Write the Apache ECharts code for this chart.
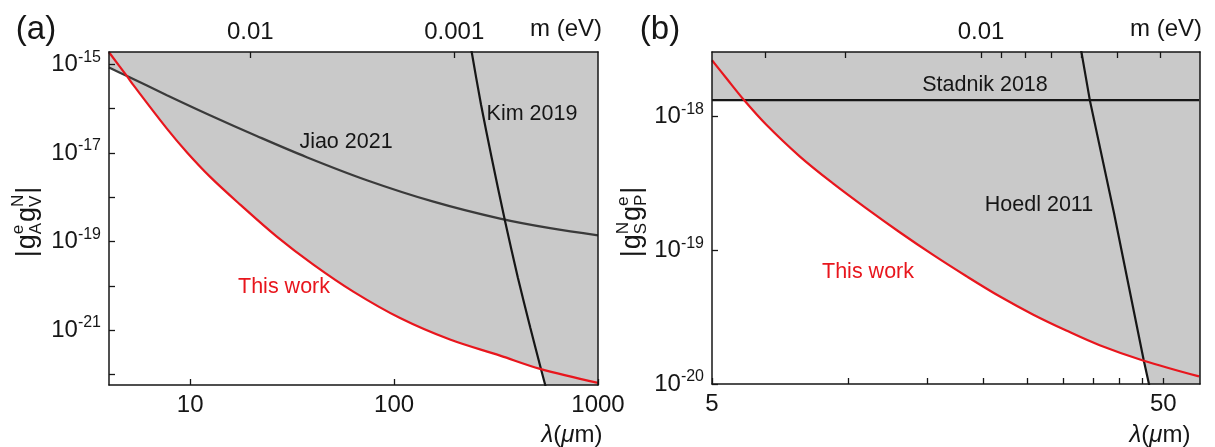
<!DOCTYPE html>
<html><head><meta charset="utf-8">
<script src="https://cdn.jsdelivr.net/npm/echarts@6/dist/echarts.min.js"></script>
<style>html,body{margin:0;padding:0;background:#fff}#c{width:1215px;height:447px}</style>
</head><body><div id="c"></div>
<script>
const HBARC = 0.1973; // eV·µm, converts mass (eV) to range λ (µm)

// ---------- Panel (a) ----------
const aThisWorkLambda = [4.0, 4.9, 5.27, 7.69, 9.63, 12.5, 17.6, 26.6, 40.2, 63.1, 107, 188, 331, 520, 1000];
const aThisWorkG      = [1.88e-15, 5.42e-16, 3.39e-16, 3.54e-17, 1.04e-17, 2.92e-18, 6.81e-19, 1.29e-19, 3.01e-20, 7.40e-21, 1.87e-21, 6.11e-22, 2.65e-22, 1.33e-22, 6.43e-23];
const aJiaoLambda = [4.0, 4.9, 7.69, 12.5, 21.2, 37.3, 73.5, 156, 331, 582, 1000];
const aJiaoG      = [8.55e-16, 5.47e-16, 2.02e-16, 7.13e-17, 2.42e-17, 8.04e-18, 2.43e-18, 7.96e-19, 3.29e-19, 2.00e-19, 1.38e-19];
const aKimLambda = [231, 240, 267, 301, 350, 405, 466, 526, 551, 632, 1260];
const aKimG      = [6.0e-15, 1.95e-15, 1.23e-16, 7.8e-18, 2.9e-19, 1.5e-20, 1.12e-21, 1.29e-22, 5.75e-23, 5.5e-24, 1e-30];
const aXTicks  = [10, 100, 1000];
const aYTicks  = [1e-22, 1e-21, 1e-20, 1e-19, 1e-18, 1e-17, 1e-16, 1e-15];
const aYLabels = [1e-21, 1e-19, 1e-17, 1e-15];
const aMassTicks  = ['0.01', '0.001'];
const aMassLabels = ['0.01', '0.001'];

// ---------- Panel (b) ----------
const bThisWorkLambda = [5.0, 5.37, 5.90, 6.59, 7.82, 9.27, 10.99, 13.03, 15.42, 18.32, 21.68, 25.70, 30.48, 36.14, 45.08, 60.0];
const bThisWorkG      = [2.62e-18, 1.94e-18, 1.31e-18, 8.67e-19, 5.02e-19, 3.15e-19, 2.05e-19, 1.36e-19, 9.25e-20, 6.38e-20, 4.52e-20, 3.31e-20, 2.51e-20, 1.95e-20, 1.50e-20, 1.14e-20];
const bStadnikLambda = [5.0, 60.0];
const bStadnikG      = [1.32e-18, 1.32e-18];
const bHoedlLambda = [31.88, 32.94, 34.37, 38.87, 45.24, 46.54, 48.74, 100];
const bHoedlG      = [5.2e-18, 3.0e-18, 1.32e-18, 1.9e-19, 1.51e-20, 9.8e-21, 4.5e-21, 1e-30];
const bXTicks  = [5, 10, 15, 20, 25, 30, 35, 40, 45, 50];
const bXLabels = [5, 50];
const bYTicks  = [1e-20, 1e-19, 1e-18];
const bYLabels = [1e-20, 1e-19, 1e-18];
const bMassTicks  = ['0.04', '0.03', '0.02', '0.01', '0.009', '0.008', '0.007', '0.006', '0.005', '0.004'];
const bMassLabels = ['0.01'];

const GRAY = '#c9c9c9', RED = '#e8161d', INK = '#161616', DARK = '#3a3a3a';
const FF = 'Liberation Sans';
const FONT = (s) => s + 'px "Liberation Sans", Arial, sans-serif';

const zip = (xs, ys) => xs.map((x, i) => [x, ys[i]]);
const massToLambda = (arr) => arr.map(m => HBARC / parseFloat(m));
const massFormatter = (labels) => (v) => {
  for (const m of labels) { const l = HBARC / parseFloat(m); if (Math.abs(l - v) / v < 1e-6) return m; }
  return '';
};

const axisLineStyle = { color: INK, width: 1.5 };
const tickStyle = { color: INK, width: 1.3 };

function xBottom(grid, min, max, ticks, labels) {
  return { type: 'log', logBase: 10, gridIndex: grid, position: 'bottom', min, max, z: 10,
    axisLine: { show: true, onZero: false, lineStyle: axisLineStyle },
    axisTick: { show: true, inside: true, length: 6, lineStyle: tickStyle, customValues: ticks },
    axisLabel: { show: true, customValues: labels, margin: 8, color: INK, fontSize: 24, fontFamily: FF,
      formatter: v => String(Math.round(v)) },
    splitLine: { show: false }, minorTick: { show: false } };
}
function xTop(grid, min, max, massTicks, massLabels) {
  return { type: 'log', logBase: 10, gridIndex: grid, position: 'top', min, max, z: 10,
    axisLine: { show: true, onZero: false, lineStyle: axisLineStyle },
    axisTick: { show: true, inside: true, length: 6, lineStyle: tickStyle, customValues: massToLambda(massTicks) },
    axisLabel: { show: true, customValues: massToLambda(massLabels), margin: 8, color: INK, fontSize: 24, fontFamily: FF,
      formatter: massFormatter(massLabels) },
    splitLine: { show: false }, minorTick: { show: false } };
}
function yLeft(grid, min, max, ticks, labels) {
  return { type: 'log', logBase: 10, gridIndex: grid, position: 'left', min, max, z: 10,
    axisLine: { show: true, onZero: false, lineStyle: axisLineStyle },
    axisTick: { show: true, inside: true, length: 6, lineStyle: tickStyle, customValues: ticks },
    axisLabel: { show: true, customValues: labels, margin: 8, color: INK, fontFamily: FF,
      formatter: v => '{b|10}{s|' + Math.round(Math.log10(v)) + '}',
      rich: { b: { fontSize: 24, lineHeight: 30, fontFamily: FF, color: INK },
              s: { fontSize: 16, lineHeight: 16, verticalAlign: 'top', fontFamily: FF, color: INK } } },
    splitLine: { show: false }, minorTick: { show: false } };
}
function yRight(grid, min, max) {
  return { type: 'log', logBase: 10, gridIndex: grid, position: 'right', min, max, z: 10,
    axisLine: { show: true, onZero: false, lineStyle: axisLineStyle },
    axisTick: { show: false }, axisLabel: { show: false }, splitLine: { show: false } };
}

function areaSeries(xi, yi, data, smooth) {
  return { type: 'line', xAxisIndex: xi, yAxisIndex: yi, data, smooth,
    symbol: 'none', showSymbol: false, silent: true, z: 1,
    lineStyle: { width: 0, opacity: 0 }, areaStyle: { color: GRAY, opacity: 1, origin: 'end' } };
}
function lineSeries(xi, yi, data, color, width, smooth) {
  return { type: 'line', xAxisIndex: xi, yAxisIndex: yi, data, smooth,
    symbol: 'none', showSymbol: false, silent: true, z: 3,
    lineStyle: { color, width } };
}

function yTitle(cx, cy, sup1, sub1, sup2, sub2) {
  const M = 27, S = 17;
  const ctx = document.createElement('canvas').getContext('2d');
  const w = (t, s) => { ctx.font = FONT(s); return ctx.measureText(t).width; };
  const items = []; let x = 0;
  const push = (t, s, dy) => items.push({ t, s, x, dy });
  push('|', M, 0); x += w('|', M) + 1;
  push('g', M, 0); x += w('g', M);
  push(sup1, S, -9.5); push(sub1, S, 8.5); x += Math.max(w(sup1, S), w(sub1, S)) + 1;
  push('g', M, 0); x += w('g', M);
  push(sup2, S, -9.5); push(sub2, S, 8.5); x += Math.max(w(sup2, S), w(sub2, S)) + 1;
  push('|', M, 0); x += w('|', M);
  const total = x;
  return { type: 'group', x: cx, y: cy, rotation: Math.PI / 2, z: 20,
    children: items.map(it => ({ type: 'text', x: it.x - total / 2, y: it.dy, z: 20,
      style: { text: it.t, font: FONT(it.s), fill: INK, align: 'left', verticalAlign: 'middle',
               textAlign: 'left', textVerticalAlign: 'middle' } })) };
}
function txt(x, y, text, size, color) {
  return { type: 'text', x, y, z: 20,
    style: { text, font: FONT(size), fill: color, align: 'center', verticalAlign: 'middle',
      textAlign: 'center', textVerticalAlign: 'middle' } };
}
function lambdaLabel(x, y) {
  return { type: 'text', x, y, z: 20,
    style: { text: '{i|λ}({i|μ}m)', font: FONT(24), fill: INK, align: 'center', verticalAlign: 'middle',
      textAlign: 'center', textVerticalAlign: 'middle',
      rich: { i: { fontStyle: 'italic', fontSize: 24, fontFamily: FF, fill: INK, color: INK } } } };
}

const aXMin = 4, aXMax = 1000, aYMin = Math.pow(10, -22.24), aYMax = Math.pow(10, -14.72);
const bXMin = 5, bXMax = 60.3, bYMin = 1e-20, bYMax = Math.pow(10, -17.52);

const option = {
  animation: false,
  backgroundColor: '#ffffff',
  grid: [
    { left: 109, top: 52, width: 489, height: 333, containLabel: false },
    { left: 712, top: 52, width: 488, height: 332, containLabel: false }
  ],
  xAxis: [
    xBottom(0, aXMin, aXMax, aXTicks, aXTicks),
    xTop(0, aXMin, aXMax, aMassTicks, aMassLabels),
    xBottom(1, bXMin, bXMax, bXTicks, bXLabels),
    xTop(1, bXMin, bXMax, bMassTicks, bMassLabels)
  ],
  yAxis: [
    yLeft(0, aYMin, aYMax, aYTicks, aYLabels),
    yRight(0, aYMin, aYMax),
    yLeft(1, bYMin, bYMax, bYTicks, bYLabels),
    yRight(1, bYMin, bYMax)
  ],
  series: [
    areaSeries(0, 0, zip(aThisWorkLambda, aThisWorkG), 0.35),
    areaSeries(0, 0, zip(aJiaoLambda, aJiaoG), 0.35),
    areaSeries(0, 0, zip(aKimLambda, aKimG), 0.25),
    lineSeries(0, 0, zip(aJiaoLambda, aJiaoG), DARK, 2.2, 0.35),
    lineSeries(0, 0, zip(aKimLambda, aKimG), INK, 2.2, 0.25),
    lineSeries(0, 0, zip(aThisWorkLambda, aThisWorkG), RED, 2.2, 0.35),

    areaSeries(2, 2, zip(bThisWorkLambda, bThisWorkG), 0.35),
    areaSeries(2, 2, zip(bStadnikLambda, bStadnikG), false),
    areaSeries(2, 2, zip(bHoedlLambda, bHoedlG), false),
    lineSeries(2, 2, zip(bStadnikLambda, bStadnikG), INK, 2.2, false),
    lineSeries(2, 2, zip(bHoedlLambda, bHoedlG), INK, 2.2, false),
    lineSeries(2, 2, zip(bThisWorkLambda, bThisWorkG), RED, 2.2, 0.35)
  ],
  graphic: [
    txt(36, 30, '(a)', 33, INK),
    txt(660, 30, '(b)', 33, INK),
    txt(566, 29, 'm (eV)', 24, INK),
    txt(1166, 29, 'm (eV)', 24, INK),
    lambdaLabel(572, 435),
    lambdaLabel(1160, 435),
    txt(346, 142, 'Jiao 2021', 21.5, INK),
    txt(532, 114, 'Kim 2019', 21.5, INK),
    txt(284, 287, 'This work', 21.5, RED),
    txt(985, 85, 'Stadnik 2018', 21.5, INK),
    txt(1039, 205, 'Hoedl 2011', 21.5, INK),
    txt(868, 272, 'This work', 21.5, RED),
    yTitle(28, 222, 'e', 'A', 'N', 'V'),
    yTitle(633, 222, 'N', 'S', 'e', 'P')
  ]
};

const chart = echarts.init(document.getElementById('c'), null, { renderer: 'canvas' });
chart.setOption(option);
</script>
</body></html>
